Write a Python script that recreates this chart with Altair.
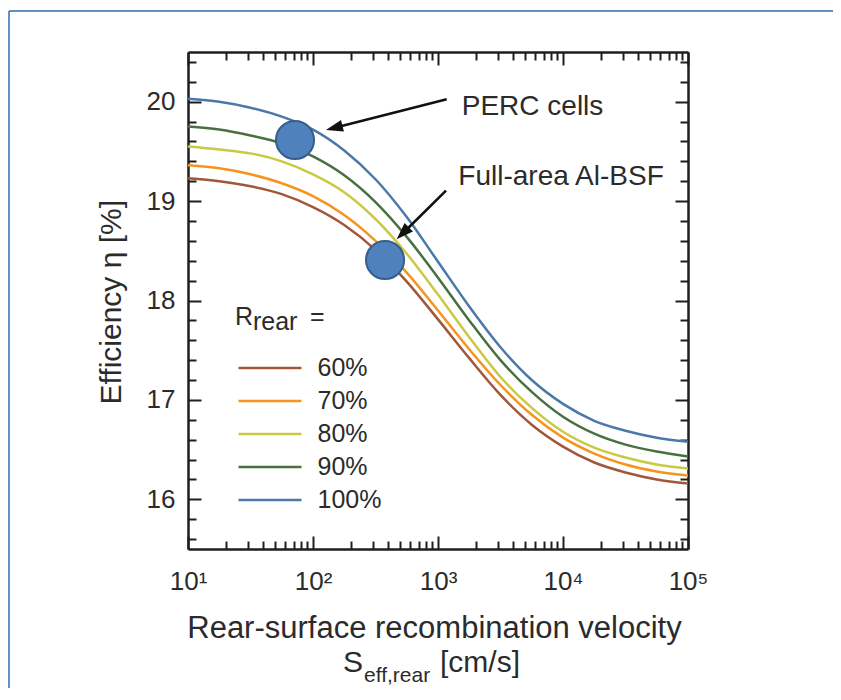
import altair as alt
import pandas as pd

# ---------------- data ----------------
S_values = [10, 17.78, 31.62, 56.23, 100, 177.8, 316.2, 562.3, 1000, 1778,
            3162, 5623, 10000, 17783, 31623, 56234, 100000]
eta_60 = [19.23, 19.20, 19.15, 19.07, 18.94, 18.76, 18.51, 18.19, 17.81, 17.42,
          17.05, 16.75, 16.53, 16.37, 16.27, 16.20, 16.16]
eta_70 = [19.36, 19.33, 19.27, 19.18, 19.05, 18.86, 18.60, 18.28, 17.90, 17.51,
          17.15, 16.85, 16.62, 16.46, 16.35, 16.28, 16.24]
eta_80 = [19.55, 19.52, 19.48, 19.40, 19.27, 19.09, 18.82, 18.47, 18.06, 17.63,
          17.23, 16.92, 16.68, 16.52, 16.42, 16.35, 16.31]
eta_90 = [19.75, 19.72, 19.66, 19.58, 19.45, 19.26, 18.99, 18.64, 18.23, 17.80,
          17.40, 17.08, 16.83, 16.66, 16.55, 16.48, 16.43]
eta_100 = [20.03, 20.00, 19.94, 19.85, 19.72, 19.51, 19.22, 18.84, 18.39, 17.94,
           17.53, 17.20, 16.96, 16.79, 16.69, 16.62, 16.58]

series_labels = ["60%", "70%", "80%", "90%", "100%"]
series_colors = ["#a0573a", "#f7941d", "#c9c944", "#487040", "#4a78a8"]

x_major = [10, 100, 1000, 10000, 100000]
x_minor = [k * 10 ** e for e in range(1, 5) for k in range(2, 10)]
y_major = [16, 17, 18, 19, 20]
y_minor = [15.6, 15.8, 16.2, 16.4, 16.6, 16.8, 17.2, 17.4, 17.6, 17.8,
           18.2, 18.4, 18.6, 18.8, 19.2, 19.4, 19.6, 19.8, 20.2, 20.4]

marker_S = [71.8, 377]
marker_eta = [19.615, 18.407]

arrow_S_start = [1174, 1159]
arrow_eta_start = [20.024, 19.105]
arrow_S_end = [146.6, 519]
arrow_eta_end = [19.735, 18.672]
arrow_S_tip = [127, 467]
arrow_eta_tip = [19.715, 18.616]
arrow_angle = [255.7, 225.4]

note_text = ["PERC cells", "Full-area Al-BSF", "R", "rear", "="]
note_S = [1549, 1455, 23.77, 33.1, 94.6]
note_eta = [19.866, 19.162, 17.754, 17.708, 17.754]
note_size = [28, 28, 25, 25, 25]

# ---------------- tables ----------------
rows = []
for lab, vals in zip(series_labels, [eta_60, eta_70, eta_80, eta_90, eta_100]):
    for s, v in zip(S_values, vals):
        rows.append({"S": s, "eta": v, "R": lab})
df = pd.DataFrame(rows)
markers = pd.DataFrame({"S": marker_S, "eta": marker_eta})
arrows = pd.DataFrame({"S": arrow_S_start, "eta": arrow_eta_start,
                       "S2": arrow_S_end, "eta2": arrow_eta_end})
heads = pd.DataFrame({"S": arrow_S_tip, "eta": arrow_eta_tip, "ang": arrow_angle})
notes = pd.DataFrame({"S": note_S, "eta": note_eta, "t": note_text, "fs": note_size})
anchor = pd.DataFrame({"S": [100], "eta": [18]})

W, H = 500, 497
FONT = "Liberation Sans"
TXT = "#2b2b2b"
FRAME = "#1e1e1e"

xscale = alt.Scale(type="log", domain=[10, 100000], nice=False)
yscale = alt.Scale(domain=[15.5, 20.5], nice=False, zero=False)

x_label_axis = alt.Axis(
    orient="bottom", values=x_major,
    labelExpr="'10' + ['\u2070','\u00b9','\u00b2','\u00b3','\u2074','\u2075'][round(log(datum.value)/LN10)]",
    ticks=False, domain=False, grid=False, labelFontSize=26, labelPadding=19,
    labelFlush=False, labelOverlap=False, labelColor=TXT, labelFont=FONT,
    title="Rear-surface recombination velocity", titleFontSize=31,
    titleFontWeight="normal", titleColor=TXT, titleFont=FONT,
    titleX=246, titleY=88, titleBaseline="alphabetic", titleAlign="center")

y_label_axis = alt.Axis(
    orient="left", values=y_major, ticks=False, domain=False, grid=False,
    labelFontSize=26, labelPadding=13, labelFlush=False, labelColor=TXT,
    labelFont=FONT, title="Efficiency \u03b7 [%]", titleFontSize=30,
    titleFontWeight="normal", titleColor=TXT, titleFont=FONT,
    titleX=-68, titleY=249.7, titleBaseline="alphabetic", titleAlign="center")

legend = alt.Legend(
    orient="none", legendX=69.5, legendY=303.5, title=None,
    symbolType="M-3,0H3", symbolSize=441, symbolStrokeWidth=2.5,
    labelFontSize=25, labelOffset=35, rowPadding=7, labelColor=TXT,
    labelFont=FONT, padding=0)

lines = alt.Chart(df).mark_line(strokeWidth=2.5, interpolate="monotone").encode(
    x=alt.X("S:Q", scale=xscale, axis=x_label_axis),
    y=alt.Y("eta:Q", scale=yscale, axis=y_label_axis),
    color=alt.Color("R:N", scale=alt.Scale(domain=series_labels, range=series_colors),
                    sort=series_labels, legend=legend),
    detail="R:N",
)

circles = alt.Chart(markers).mark_point(
    shape="circle", filled=True, size=1450, fill="#4F81BD", stroke="#385D8A",
    strokeWidth=2, opacity=1).encode(
    x=alt.X("S:Q", scale=xscale, axis=None),
    y=alt.Y("eta:Q", scale=yscale, axis=None))

shafts = alt.Chart(arrows).mark_rule(strokeWidth=2.6, color="#111111").encode(
    x=alt.X("S:Q", scale=xscale, axis=None), x2="S2:Q",
    y=alt.Y("eta:Q", scale=yscale, axis=None), y2="eta2:Q")

arrowheads = alt.Chart(heads).mark_point(
    shape="M0,0L-0.7,2L0.7,2Z", filled=True, size=289, color="#111111",
    opacity=1).encode(
    x=alt.X("S:Q", scale=xscale, axis=None),
    y=alt.Y("eta:Q", scale=yscale, axis=None),
    angle=alt.Angle("ang:Q", scale=None))

note_layer = alt.Chart(notes).mark_text(
    align="left", baseline="alphabetic", color=TXT, font=FONT).encode(
    x=alt.X("S:Q", scale=xscale, axis=None),
    y=alt.Y("eta:Q", scale=yscale, axis=None),
    text="t:N", size=alt.Size("fs:Q", scale=None))

t_S = alt.Chart(anchor).mark_text(
    text="S", align="left", baseline="alphabetic", fontSize=30, color=TXT,
    font=FONT).encode(x=alt.value(155), y=alt.value(620))
t_sub = alt.Chart(anchor).mark_text(
    text="eff,rear", align="left", baseline="alphabetic", fontSize=21, color=TXT,
    font=FONT).encode(x=alt.value(176), y=alt.value(630))
t_unit = alt.Chart(anchor).mark_text(
    text="[cm/s]", align="left", baseline="alphabetic", fontSize=30, color=TXT,
    font=FONT).encode(x=alt.value(252), y=alt.value(620))


def tick_axis(orient, offset, values, size, domain):
    return alt.Axis(orient=orient, offset=offset, values=values, ticks=True,
                    tickSize=size, tickWidth=2, tickColor=FRAME, labels=False,
                    domain=domain, domainColor=FRAME, domainWidth=2.5,
                    grid=False, title=None)


def xtick(axis):
    return alt.Chart(anchor).mark_point(opacity=0).encode(
        x=alt.X("S:Q", scale=xscale, axis=axis),
        y=alt.Y("eta:Q", scale=yscale, axis=None))


def ytick(axis):
    return alt.Chart(anchor).mark_point(opacity=0).encode(
        x=alt.X("S:Q", scale=xscale, axis=None),
        y=alt.Y("eta:Q", scale=yscale, axis=axis))


ticks = [
    xtick(tick_axis("top", -H, x_major, 13, True)),
    xtick(tick_axis("top", -H, x_minor, 8, False)),
    xtick(tick_axis("bottom", -H, x_major, 13, True)),
    xtick(tick_axis("bottom", -H, x_minor, 8, False)),
    ytick(tick_axis("right", -W, y_major, 13, True)),
    ytick(tick_axis("right", -W, y_minor, 8, False)),
    ytick(tick_axis("left", -W, y_major, 13, True)),
    ytick(tick_axis("left", -W, y_minor, 8, False)),
]

frame_v = alt.Chart(anchor).mark_rule(color="#2a6db5", strokeWidth=1.5).encode(
    x=alt.value(-179), y=alt.value(-41), y2=alt.value(640))
frame_h = alt.Chart(anchor).mark_rule(color="#2a6db5", strokeWidth=1.5).encode(
    y=alt.value(-41), x=alt.value(-179), x2=alt.value(650))

chart = alt.layer(
    frame_v, frame_h, lines, circles, shafts, arrowheads, note_layer,
    t_S, t_sub, t_unit, *ticks
).resolve_axis(x="independent", y="independent").properties(
    width=W, height=H,
    padding={"left": 180, "top": 44, "right": 145, "bottom": 139},
    autosize=alt.AutoSizeParams(type="none"),
).configure_view(stroke=FRAME, strokeWidth=2.5).configure(font=FONT)

chart.save("out.html", embed_options={"renderer": "svg", "actions": False})
